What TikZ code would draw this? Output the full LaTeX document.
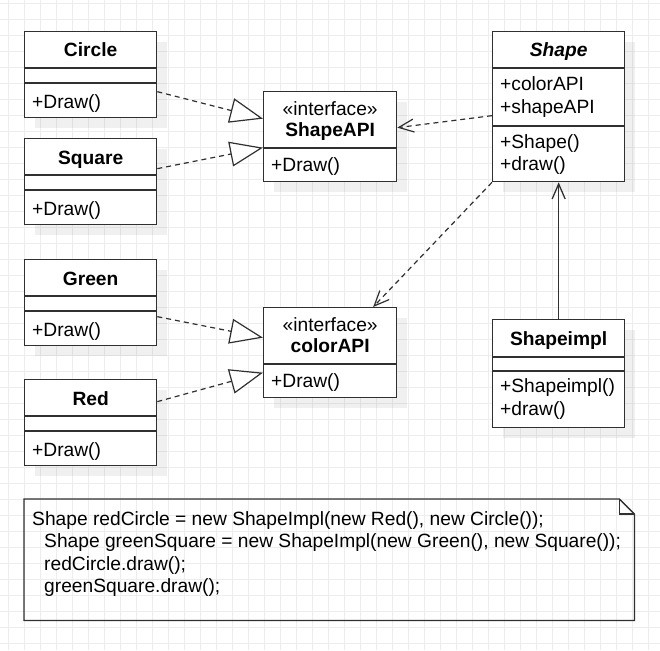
\documentclass[tikz,border=0pt]{standalone}
\usepackage{fontspec}
\setmainfont{Liberation Sans}
\usetikzlibrary{arrows.meta,shadows,positioning}
\definecolor{linegray}{HTML}{303030}
\definecolor{gridgray}{HTML}{EDEDED}
\newcommand{\diagfont}{\fontsize{19.2}{22.5}\selectfont}
\tikzstyle{gridline} = [draw=gridgray, line width=1pt]
\tikzstyle{classbox} = [draw=linegray, fill=white, line width=1.3pt, anchor=north west, minimum width=132pt, inner sep=0pt, drop shadow={shadow xshift=10pt, shadow yshift=-10pt, fill=black, opacity=.06}]
\tikzstyle{classname} = [font=\diagfont\bfseries, anchor=base, inner sep=0pt]
\tikzstyle{members} = [font=\diagfont, anchor=base west, inner sep=0pt, align=left]
\tikzstyle{sepline} = [draw=linegray, line width=1.3pt]
\tikzstyle{realize} = [draw=linegray, line width=1.2pt, dash pattern=on 5pt off 4pt, -{Triangle[open, length=33pt, width=25pt, fill=white]}]
\tikzstyle{depend} = [draw=linegray, line width=1.2pt, dash pattern=on 5pt off 4pt, -{Straight Barb[length=15pt, width=13pt]}]
\tikzstyle{assoc} = [draw=linegray, line width=1.3pt, -{Straight Barb[length=15pt, width=13pt]}]
\newcommand{\splitline}[2]{\draw[sepline] ([yshift=-#2pt]#1.north west) -- ([yshift=-#2pt]#1.north east);}
\newcommand{\implclass}[4]{%
  \node[classbox, minimum height=86pt] (#1) at (#2,#3) {};
  \node[classname] (#1name) at ([yshift=-26pt]#1.north) {#4};
  \splitline{#1}{37} \splitline{#1}{52}
  \node[members] (#1ops) at ([xshift=8pt,yshift=-77pt]#1.north west) {+Draw()};}
\newcommand{\ifaceclass}[4]{%
  \node[classbox, minimum height=90pt, minimum width=133pt] (#1) at (#2,#3) {};
  \node[classname, font=\diagfont] (#1stereo) at ([yshift=-24pt]#1.north) {«interface»};
  \node[classname] (#1name) at ([yshift=-45pt]#1.north) {#4};
  \splitline{#1}{57}
  \node[members] (#1ops) at ([xshift=8pt,yshift=-80pt]#1.north west) {+Draw()};}

\begin{document}
\begin{tikzpicture}[x=1pt, y=-1pt, font=\diagfont]
  \useasboundingbox[fill=white] (0,0) rectangle (660,650);
  % background grid
  \foreach \gx in {8,24,...,648} \draw[gridline] (\gx,0) -- (\gx,650);
  \foreach \gy in {3.5,19.5,...,643.5} \draw[gridline] (0,\gy) -- (660,\gy);

  % implementors
  \implclass{circle}{24}{31}{Circle}
  \implclass{square}{24}{138}{Square}
  \implclass{green}{24}{259}{Green}
  \implclass{red}{24}{379}{Red}

  % interfaces
  \ifaceclass{shapeapi}{263}{91}{ShapeAPI}
  \ifaceclass{colorapi}{263}{307}{colorAPI}

  % abstraction
  \node[classbox, minimum height=150pt] (shape) at (492,31) {};
  \node[classname, font=\diagfont\bfseries\itshape] (shapename) at ([yshift=-26pt]shape.north) {Shape};
  \splitline{shape}{37} \splitline{shape}{95}
  \node[members] (shapeattr) at ([xshift=8pt,yshift=-82.5pt]shape.north west) {+colorAPI\\+shapeAPI};
  \node[members] (shapeops) at ([xshift=8pt,yshift=-139.5pt]shape.north west) {+Shape()\\+draw()};

  \node[classbox, minimum height=108pt] (shapeimpl) at (492,319) {};
  \node[classname] (shapeimplname) at ([yshift=-26pt]shapeimpl.north) {Shapeimpl};
  \splitline{shapeimpl}{38} \splitline{shapeimpl}{52}
  \node[members] (shapeimplops) at ([xshift=8pt,yshift=-96pt]shapeimpl.north west) {+Shapeimpl()\\+draw()};

  % note
  \node[anchor=north west, minimum width=610pt, minimum height=121pt, inner sep=0pt] (note) at (24,499) {};
  \draw[linegray, line width=1.3pt] (note.south west) -- (note.north west) -- ([xshift=-15pt]note.north east)
    -- ([yshift=-15pt]note.north east) -- (note.south east) -- cycle;
  \draw[linegray, line width=1.3pt] ([xshift=-15pt]note.north east) |- ([yshift=-15pt]note.north east);
  \node[members] (notetext) at ([xshift=8pt,yshift=-93.5pt]note.north west)
    {Shape redCircle = new ShapeImpl(new Red(), new Circle());\\
     \hspace*{12pt}Shape greenSquare = new ShapeImpl(new Green(), new Square());\\
     \hspace*{12pt}redCircle.draw();\\
     \hspace*{12pt}greenSquare.draw();};

  % connectors
  \draw[realize] ([yshift=-17pt]circle.east) -- ([yshift=18pt]shapeapi.west);
  \draw[realize] ([yshift=13pt]square.east) -- ([yshift=-11pt]shapeapi.west);
  \draw[realize] ([yshift=-14pt]green.east) -- ([yshift=15pt]colorapi.west);
  \draw[realize] ([yshift=21pt]red.east) -- ([yshift=-20pt]colorapi.west);
  \draw[depend] ([yshift=-9pt]shape.west) -- ([yshift=9pt]shapeapi.east);
  \draw[depend] (shape.south west) -- ([xshift=43pt]colorapi.north);
  \draw[assoc] (shapeimpl.north) -- (shape.south);
\end{tikzpicture}
\end{document}
